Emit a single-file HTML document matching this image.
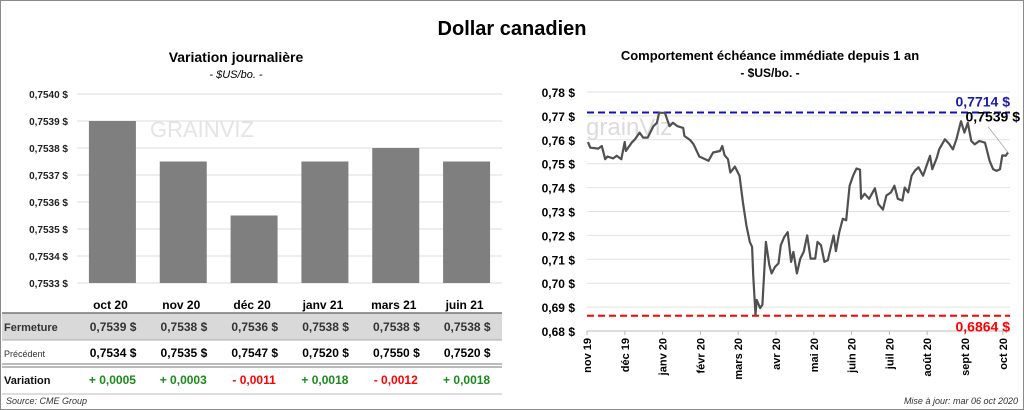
<!DOCTYPE html>
<html><head><meta charset="utf-8"><style>
html,body{margin:0;padding:0;background:#fff}
svg{display:block;font-family:"Liberation Sans",sans-serif}
</style></head><body>
<svg width="1024" height="410" viewBox="0 0 1024 410">
<rect x="0.5" y="0.5" width="1023" height="409" fill="#fff" stroke="#8a8a8a"/>
<text x="512" y="35" text-anchor="middle" font-size="20" font-weight="bold">Dollar canadien</text>
<text x="236" y="62" text-anchor="middle" font-size="14" font-weight="bold">Variation  journalière</text>
<text x="236" y="78" text-anchor="middle" font-size="11" font-style="italic">- $US/bo. -</text>
<text x="770" y="60" text-anchor="middle" font-size="13" font-weight="bold">Comportement échéance immédiate depuis 1 an</text>
<text x="770" y="77" text-anchor="middle" font-size="12" font-weight="bold">- $US/bo. -</text>
<g id="left"></g>
<g id="table"></g>
<g id="right"></g>
<text x="6" y="404" font-size="9" font-style="italic" fill="#333">Source: CME Group</text>
<text x="1018" y="404" text-anchor="end" font-size="9" font-style="italic" fill="#333">Mise à jour: mar 06 oct 2020</text>
</svg>
<script>
const categories=["oct 20","nov 20","déc 20","janv 21","mars 21","juin 21"];
const closeValues=[0.7539,0.75375,0.75355,0.75375,0.7538,0.75375];
const closeLabels=["0,7539","0,7538","0,7536","0,7538","0,7538","0,7538"];
const prevLabels=["0,7534","0,7535","0,7547","0,7520","0,7550","0,7520"];
const changeLabels=["+ 0,0005","+ 0,0003","- 0,0011","+ 0,0018","- 0,0012","+ 0,0018"];
const leftTicks=[0.7533,0.7534,0.7535,0.7536,0.7537,0.7538,0.7539,0.7540];

const days=[0,2,9,12,15,17,22,25,29,32,33,38,41,45,48,52,57,60,62,67,71,74,78,83,84,89,92,97,105,109,115,117,119,122,124,128,132,135,138,141,143,144,146,147,150,152,155,158,160,163,166,168,171,174,177,179,182,185,188,191,194,198,200,203,206,209,214,216,219,222,225,228,231,234,237,238,241,245,250,253,257,260,264,267,270,274,276,279,282,285,288,292,295,298,300,304,306,311,315,318,321,325,328,331,334,337,341,346,350,353,356,359,361,364,366];
const prices=[.7591,.7567,.7563,.7574,.7519,.7530,.7522,.7533,.7519,.7591,.7553,.7588,.7602,.7630,.7609,.7609,.7657,.7671,.7713,.7713,.7657,.7671,.7657,.7650,.7616,.7599,.7581,.7530,.7512,.7547,.7553,.7574,.7535,.7519,.7463,.7488,.7450,.7339,.7242,.7173,.7152,.7034,.6868,.6930,.6896,.6910,.7173,.7076,.7041,.7068,.7083,.7159,.7193,.7214,.7089,.7131,.7041,.7103,.7131,.7200,.7103,.7103,.7173,.7159,.7089,.7096,.7200,.7134,.7214,.7270,.7263,.7408,.7450,.7480,.7475,.7353,.7374,.7353,.7397,.7332,.7308,.7367,.7380,.7408,.7353,.7346,.7400,.7380,.7450,.7471,.7485,.7450,.7491,.7533,.7477,.7526,.7560,.7602,.7581,.7560,.7602,.7678,.7630,.7671,.7595,.7581,.7595,.7588,.7512,.7477,.7470,.7477,.7535,.7533,.7547];
const rightTicks=[0.68,0.69,0.70,0.71,0.72,0.73,0.74,0.75,0.76,0.77,0.78];
const monthLabels=["nov 19","déc 19","janv 20","févr 20","mars 20","avr 20","mai 20","juin 20","juil 20","août 20","sept 20","oct 20"];
const highValue=0.7714, lowValue=0.6864, lastValue=0.7539;

const NS="http://www.w3.org/2000/svg";
function mk(parent,tag,attrs,text){const e=document.createElementNS(NS,tag);for(const k in attrs)e.setAttribute(k,attrs[k]);if(text!==undefined)e.textContent=text;parent.appendChild(e);return e;}
const fmt=(v,d)=>v.toFixed(d).replace('.',',');

// LEFT bar chart
const L=document.getElementById('left');
const lx0=77,lx1=502,ly0=283,ly1=94,lmin=0.7533,lmax=0.7540;
const ly=v=>ly0-(v-lmin)/(lmax-lmin)*(ly0-ly1);
const band=(lx1-lx0)/categories.length;
leftTicks.forEach(t=>{
  const g=mk(L,'line',{x1:lx0,x2:lx1,y1:ly(t),y2:ly(t),stroke:'#dedede','stroke-width':1});
  
  
  const tx=mk(L,'text',{x:68,y:ly(t)+4,'text-anchor':'end','font-size':10,'font-weight':'bold',fill:'#222'},fmt(t,4)+' $');
  
  
});
mk(L,'text',{x:150,y:137,'font-size':22,fill:'#e4e4e4'},'GRAINVIZ');
closeValues.forEach((v,i)=>{
  const cx=lx0+band*(i+0.5);
  const r=mk(L,'rect',{x:cx-23.5,y:ly(v),width:47,height:ly0-ly(v),fill:'#7f7f7f'});
  
  
});
// TABLE
const T=document.getElementById('table');
const colX=i=>lx0+band*(i+0.5);
mk(T,'rect',{x:2,y:313,width:500,height:27,fill:'#d9d9d9'});
mk(T,'line',{x1:2,x2:502,y1:313,y2:313,stroke:'#777','stroke-width':1.5});
mk(T,'line',{x1:2,x2:502,y1:340,y2:340,stroke:'#aaa'});
mk(T,'line',{x1:2,x2:502,y1:364,y2:364,stroke:'#777','stroke-width':1});
mk(T,'line',{x1:2,x2:502,y1:367,y2:367,stroke:'#777','stroke-width':1});
mk(T,'line',{x1:2,x2:502,y1:394,y2:394,stroke:'#bbb'});
mk(T,'text',{x:4,y:331,'font-size':11,'font-weight':'bold',fill:'#333'},'Fermeture');
mk(T,'text',{x:4,y:357,'font-size':9,fill:'#333'},'Précédent');
mk(T,'text',{x:4,y:384,'font-size':11,'font-weight':'bold',fill:'#111'},'Variation');
categories.forEach((c,i)=>{
  const x=colX(i);
  const h=mk(T,'text',{x:x-2,y:309,'text-anchor':'middle','font-size':12,'font-weight':'bold'},c);
  
  
  const a=mk(T,'text',{x:x+24,y:331,'text-anchor':'end','font-size':12,'font-weight':'bold',fill:'#333','xml:space':'preserve'},closeLabels[i]+'  $');
  
  
  const b=mk(T,'text',{x:x+24,y:357,'text-anchor':'end','font-size':12,'font-weight':'bold','xml:space':'preserve'},prevLabels[i]+'  $');
  
  
  const neg=changeLabels[i].startsWith('-');
  const d=mk(T,'text',{x:x,y:384,'text-anchor':'middle','font-size':12,'font-weight':'bold',fill:neg?'#ff0000':'#1a8a1a'},changeLabels[i]);
  
  
});
// RIGHT line chart
const R=document.getElementById('right');
const rx0=588,rx1=1008,ry0=331,ry1=92,rmin=0.68,rmax=0.78;
const ry=v=>ry0-(v-rmin)/(rmax-rmin)*(ry0-ry1);
const rx=d=>rx0+d/366*(rx1-rx0);
rightTicks.forEach(t=>{
  const g=mk(R,'line',{x1:587,x2:1010,y1:ry(t),y2:ry(t),stroke:t===rmin?'#bbb':'#e2e2e2'});
  
  
  const tx=mk(R,'text',{x:575,y:ry(t)+5,'text-anchor':'end','font-size':12,'font-weight':'bold'},fmt(t,2)+' $');
  
  
});
mk(R,'text',{x:586,y:135,'font-size':24,fill:'#dcdcdc'},'grainViz');
monthLabels.forEach((m,i)=>{
  const x=587+i*37.8;
  mk(R,'line',{x1:x,x2:x,y1:331,y2:335,stroke:'#bbb'});
  const tx=mk(R,'text',{x:0,y:0,'text-anchor':'end','font-size':11,'font-weight':'bold',transform:`translate(${x+4},338) rotate(-90)`},m);
  
  
});
const hl=mk(R,'line',{x1:587,x2:1010,y1:ry(highValue),y2:ry(highValue),stroke:'#1010c0','stroke-width':2,'stroke-dasharray':'7,4'});


const ll=mk(R,'line',{x1:587,x2:1010,y1:ry(lowValue),y2:ry(lowValue),stroke:'#ff0000','stroke-width':2,'stroke-dasharray':'7,4'});


const p=mk(R,'path',{d:days.map((d,i)=>(i?'L':'M')+rx(d).toFixed(1)+','+ry(prices[i]).toFixed(1)).join(''),fill:'none',stroke:'#505050','stroke-width':2.2,'stroke-linejoin':'round'});


const ht=mk(R,'text',{x:1010,y:ry(highValue)-6,'text-anchor':'end','font-size':14,'font-weight':'bold',fill:'#1a1ab0'},fmt(highValue,4)+' $');


const lt=mk(R,'text',{x:1010,y:ry(lowValue)+16,'text-anchor':'end','font-size':14,'font-weight':'bold',fill:'#ff0000'},fmt(lowValue,4)+' $');


const la=mk(R,'text',{x:1020,y:ry(highValue)+9,'text-anchor':'end','font-size':14,'font-weight':'bold'},fmt(lastValue,4)+' $');


mk(R,'line',{x1:988,x2:1008,y1:ry(highValue)+14,y2:ry(prices[prices.length-1]),stroke:'#999','stroke-width':0.7});
</script>
</body></html>
